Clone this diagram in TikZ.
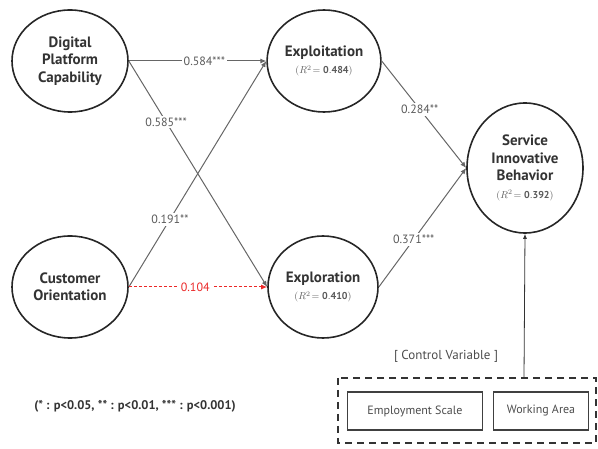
\documentclass[tikz,border=0pt]{standalone}
\usepackage{fontspec}
\setmainfont{PT Sans}
\usetikzlibrary{shapes.geometric, arrows.meta, positioning, calc}
\definecolor{labelgray}{RGB}{90,90,90}
\definecolor{pathred}{RGB}{235,40,40}

\tikzset{
  construct/.style={ellipse,draw=black!85,line width=1.6pt,minimum width=116pt,minimum height=102pt,inner sep=1pt,font=\fontsize{15}{17.5}\selectfont\bfseries,align=center,text=black!80},
  pathline/.style={-{Latex[length=6pt,width=5pt]},draw=black!60,line width=1pt},
  coef/.style={fill=white,inner sep=2pt,font=\fontsize{12}{14}\selectfont,text=labelgray},
  ctrlbox/.style={rectangle,draw=black!75,line width=1.4pt,minimum height=38pt,font=\fontsize{12}{14}\selectfont,text=black!70}
}
\newcommand{\rsq}[1]{{\fontsize{10}{12}\selectfont\color{labelgray}$(R^2\!=\mathbf{#1})$}}

\begin{document}
\begin{tikzpicture}[x=1pt,y=-1pt]
    \useasboundingbox (0,0) rectangle (598,449);

    % Konstrukte
    \node[construct] (dpc) at (70,61) {Digital\\Platform\\Capability};
    \node[construct] (co) at (70,287) {Customer\\Orientation};
    \node[construct,minimum width=110pt] (exploit) at (324,61) {Exploitation\\\rsq{0.484}};
    \node[construct,minimum width=110pt] (explore) at (323,287) {Exploration\\\rsq{0.410}};
    \node[construct,minimum height=130pt] (sib) at (525,168) {Service\\Innovative\\Behavior\\\rsq{0.392}};

    % Pfade
    \draw[pathline] (dpc.east) -- node[coef,pos=0.55] {0.584***} (exploit.west);
    \draw[pathline] (dpc.east) -- node[coef,pos=0.27] {0.585***} (explore.west);
    \draw[pathline] (co.east) -- node[coef,pos=0.3] {0.191**} (exploit.west);
    \draw[pathline,color=pathred,draw=pathred,densely dashed] (co.east) -- node[coef,pos=0.48,text=pathred] {0.104} (explore.west);
    \draw[pathline] (exploit.east) -- node[coef,pos=0.45] {0.284**} (sib.west);
    \draw[pathline] (explore.east) -- node[coef,pos=0.4] {0.371***} (sib.west);

    % Kontrollvariablen
    \node[ctrlbox,minimum width=135pt] (scale) at (415,411) {Employment Scale};
    \node[ctrlbox,minimum width=95pt] (area) at (541,411) {Working Area};
    \draw[black!80,line width=1.6pt,dash pattern=on 7pt off 5pt] (338,378) rectangle (596,443);
    \coordinate (ctrl) at (524,378);
    \node[font=\fontsize{13}{15}\selectfont,text=black!70] (ctrllabel) at (446,356) {[ Control Variable ]};
    \draw[-{Latex[length=5pt,width=4pt]},black!80,line width=0.8pt] (ctrl) -- (sib.south);

    % Signifikanz
    \node[font=\fontsize{12.5}{14}\selectfont\bfseries,text=black!80] (note) at (135,406) {(* : p<0.05, ** : p<0.01, *** : p<0.001)};
\end{tikzpicture}
\end{document}
